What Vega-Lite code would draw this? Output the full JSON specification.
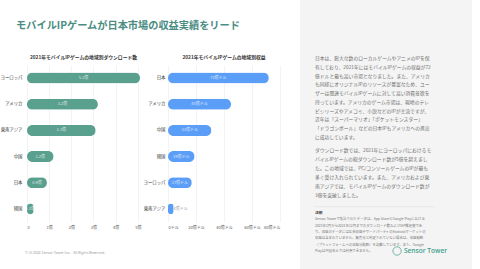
{
  "$schema": "https://vega.github.io/schema/vega-lite/v6.json",
  "padding": 0,
  "background": "white",
  "config": {"font": "Noto Sans CJK JP", "view": {"stroke": null}},
  "datasets": {
    "downloads": [
      {"region": "ヨーロッパ", "value": 5.1, "label": "5.1億"},
      {"region": "アメリカ", "value": 3.2, "label": "3.2億"},
      {"region": "東南アジア", "value": 3.1, "label": "3.1億"},
      {"region": "中国", "value": 1.2, "label": "1.2億"},
      {"region": "日本", "value": 0.9, "label": "0.9億"},
      {"region": "韓国", "value": 0.3, "label": "0.3億"}
    ],
    "revenue": [
      {"region": "日本", "value": 72, "label": "72億ドル"},
      {"region": "アメリカ", "value": 45, "label": "45億ドル"},
      {"region": "中国", "value": 31, "label": "31億ドル"},
      {"region": "韓国", "value": 19, "label": "19億ドル"},
      {"region": "ヨーロッパ", "value": 17, "label": "17億ドル"},
      {"region": "東南アジア", "value": 4, "label": "4億ドル"}
    ],
    "p1": [
      {"line": 0, "text": "日本は、膨大な数のローカルゲームやアニメのIPを保"},
      {"line": 1, "text": "有しており、2021年にはモバイルIPゲームの収益が72"},
      {"line": 2, "text": "億ドルと最も高い市場となりました。また、アメリカ"},
      {"line": 3, "text": "も同様にオリジナルIPのリソースが豊富なため、ユー"},
      {"line": 4, "text": "ザーは関連モバイルIPゲームに対して高い消費意欲を"},
      {"line": 5, "text": "持っています。アメリカのゲーム市場は、現地のテレ"},
      {"line": 6, "text": "ビシリーズやアメコミ、小説などのIPが主流ですが、"},
      {"line": 7, "text": "近年は「スーパーマリオ」「ポケットモンスター」"},
      {"line": 8, "text": "「ドラゴンボール」などの日本IPもアメリカへの進出"},
      {"line": 9, "text": "に成功しています。"}
    ],
    "p2": [
      {"line": 0, "text": "ダウンロード数では、2021年にヨーロッパにおけるモ"},
      {"line": 1, "text": "バイルIPゲームの総ダウンロード数が5億を超えまし"},
      {"line": 2, "text": "た。この地域では、PC/コンソールゲームのIPが最も"},
      {"line": 3, "text": "多く受け入れられています。また、アメリカおよび東"},
      {"line": 4, "text": "南アジアでは、モバイルIPゲームのダウンロード数が"},
      {"line": 5, "text": "3億を突破しました。"}
    ],
    "notehead": [{"line": 0, "text": "注釈"}],
    "note": [
      {"line": 1, "text": "Sensor Towerで集計されたデータは、App StoreとGoogle Playにおける"},
      {"line": 2, "text": "2021年1月から2021年12月までのダウンロード数およびIAP推定値であ"},
      {"line": 3, "text": "り、収益のデータには広告収益やサードパーティのAndroidマーケットの"},
      {"line": 4, "text": "収益は含まれていません。販売元と判定されていない場合は、収益総額"},
      {"line": 5, "text": "（プラットフォームへの収益分配額）を記載しています。また、Google"},
      {"line": 6, "text": "Playは中国本土では利用できません。"}
    ]
  },
  "spacing": 20,
  "hconcat": [
    {
      "spacing": 14,
      "vconcat": [
        {
          "width": 202,
          "height": 41,
          "data": {"values": [{"t": "モバイルIPゲームが日本市場の収益実績をリード"}]},
          "mark": {"type": "text", "fontSize": 10.2, "fontWeight": "bold", "color": "#4a8c82", "baseline": "top"},
          "encoding": {"text": {"field": "t"}}
        },
        {
          "spacing": 28,
          "bounds": "flush",
          "hconcat": [
            {
              "width": 113,
              "height": 157,
              "data": {"name": "downloads"},
              "title": {"text": "2021年モバイルIPゲームの地域別ダウンロード数", "fontSize": 4.8, "fontWeight": "bold", "color": "#333333", "offset": 5},
              "encoding": {
                "y": {"field": "region", "type": "nominal", "sort": null,
                  "scale": {"paddingInner": 0.58, "paddingOuter": 0.29},
                  "axis": {"title": null, "domain": false, "ticks": false, "labelFontSize": 4.4, "labelColor": "#333333", "labelPadding": 5}}
              },
              "layer": [
                {
                  "mark": {"type": "bar", "cornerRadius": 5.5, "color": "#5aa08f"},
                  "encoding": {
                    "x": {"field": "value", "type": "quantitative",
                      "scale": {"domain": [0, 5.1], "nice": false},
                      "axis": {"title": null, "values": [0, 1, 2, 3, 4, 5], "labelExpr": "datum.value == 0 ? '0' : datum.value + '億'", "domain": false, "ticks": false, "grid": true, "gridColor": "#e6e6e6", "gridWidth": 0.5, "labelFontSize": 4, "labelColor": "#555555", "labelPadding": 3}}
                  }
                },
                {
                  "mark": {"type": "text", "fontSize": 4, "color": "#ffffff", "opacity": 0.75},
                  "encoding": {
                    "x": {"field": "value", "type": "quantitative", "scale": {"domain": [0, 10.2], "nice": false}, "axis": null},
                    "text": {"field": "label"}
                  }
                }
              ],
              "resolve": {"scale": {"x": "independent"}}
            },
            {
              "width": 112,
              "height": 157,
              "data": {"name": "revenue"},
              "title": {"text": "2021年モバイルIPゲームの地域別収益", "fontSize": 4.8, "fontWeight": "bold", "color": "#333333", "offset": 5},
              "encoding": {
                "y": {"field": "region", "type": "nominal", "sort": null,
                  "scale": {"paddingInner": 0.58, "paddingOuter": 0.29},
                  "axis": {"title": null, "domain": false, "ticks": false, "labelFontSize": 4.4, "labelColor": "#333333", "labelPadding": 3}}
              },
              "layer": [
                {
                  "mark": {"type": "bar", "cornerRadius": 5.5, "color": "#5b9ef8"},
                  "encoding": {
                    "x": {"field": "value", "type": "quantitative",
                      "scale": {"domain": [0, 80], "nice": false},
                      "axis": {"title": null, "values": [0, 20, 40, 60, 80], "labelExpr": "datum.value == 0 ? '0ドル' : datum.value + '億ドル'", "domain": false, "ticks": false, "grid": true, "gridColor": "#e6e6e6", "gridWidth": 0.5, "labelFontSize": 4, "labelColor": "#555555", "labelPadding": 3}}
                  }
                },
                {
                  "transform": [{"filter": "datum.value >= 10"}],
                  "mark": {"type": "text", "fontSize": 4, "color": "#ffffff", "opacity": 0.75},
                  "encoding": {
                    "x": {"field": "value", "type": "quantitative", "scale": {"domain": [0, 160], "nice": false}, "axis": null},
                    "text": {"field": "label"}
                  }
                },
                {
                  "transform": [{"filter": "datum.value < 10"}],
                  "mark": {"type": "text", "fontSize": 4, "color": "#9aa3ad", "align": "left"},
                  "encoding": {
                    "x": {"field": "value", "type": "quantitative", "scale": {"domain": [0, 80], "nice": false}, "axis": null},
                    "text": {"field": "label"}
                  }
                }
              ],
              "resolve": {"scale": {"x": "independent"}}
            }
          ]
        },
        {
          "width": 76,
          "height": 16,
          "data": {"values": [{"t": "7 |  © 2022 Sensor Tower Inc. - All Rights Reserved."}]},
          "mark": {"type": "text", "fontSize": 3.5, "color": "#9a9a9a", "baseline": "top"},
          "encoding": {"text": {"field": "t"}}
        }
      ]
    },
    {
      "width": 172,
      "height": 269,
      "view": {"fill": "#f4f4f4", "stroke": null},
      "layer": [
        {
          "data": {"name": "p1"},
          "mark": {"type": "text", "align": "left", "baseline": "middle", "fontSize": 4.8, "color": "#6e6e6e"},
          "encoding": {
            "x": {"datum": 0, "type": "quantitative", "scale": {"domain": [0, 1], "range": [15, 165], "nice": false, "zero": false}, "axis": null},
            "y": {"field": "line", "type": "quantitative", "scale": {"domain": [0, 9], "range": [59, 138], "nice": false, "zero": false}, "axis": null},
            "text": {"field": "text"}
          }
        },
        {
          "data": {"name": "p2"},
          "mark": {"type": "text", "align": "left", "baseline": "middle", "fontSize": 4.8, "color": "#6e6e6e"},
          "encoding": {
            "x": {"datum": 0, "type": "quantitative", "axis": null},
            "y": {"field": "line", "type": "quantitative", "scale": {"domain": [0, 5], "range": [151, 196], "nice": false, "zero": false}, "axis": null},
            "text": {"field": "text"}
          }
        },
        {
          "encoding": {
            "y": {"field": "line", "type": "quantitative", "scale": {"domain": [0, 6], "range": [213, 251], "nice": false, "zero": false}, "axis": null}
          },
          "layer": [
            {
              "data": {"name": "notehead"},
              "mark": {"type": "text", "align": "left", "baseline": "middle", "fontSize": 3.8, "fontWeight": "bold", "color": "#444444"},
              "encoding": {"x": {"datum": 0, "type": "quantitative", "axis": null}, "text": {"field": "text"}}
            },
            {
              "data": {"name": "note"},
              "mark": {"type": "text", "align": "left", "baseline": "middle", "fontSize": 3.4, "color": "#777777"},
              "encoding": {"x": {"datum": 0, "type": "quantitative", "axis": null}, "text": {"field": "text"}}
            },
            {
              "data": {"values": [{"line": -1}]},
              "mark": {"type": "rule", "color": "#d8d8d8", "strokeWidth": 0.5},
              "encoding": {"x": {"datum": 0, "type": "quantitative", "axis": null}, "x2": {"datum": 0.8}}
            },
            {
              "data": {"values": [{"line": 6, "t": "Sensor Tower"}]},
              "mark": {"type": "text", "align": "left", "baseline": "middle", "fontSize": 6.6, "fontWeight": 600, "color": "#3f9e8d", "font": "Open Sans"},
              "encoding": {"x": {"datum": 0.593, "type": "quantitative", "axis": null}, "text": {"field": "t"}}
            },
            {
              "data": {"values": [{"line": 6}]},
              "mark": {"type": "point", "shape": "circle", "filled": false, "size": 70, "strokeWidth": 1, "color": "#3f9e8d"},
              "encoding": {"x": {"datum": 0.547, "type": "quantitative", "axis": null}}
            }
          ]
        }
      ],
      "resolve": {"scale": {"y": "independent"}}
    }
  ]
}
